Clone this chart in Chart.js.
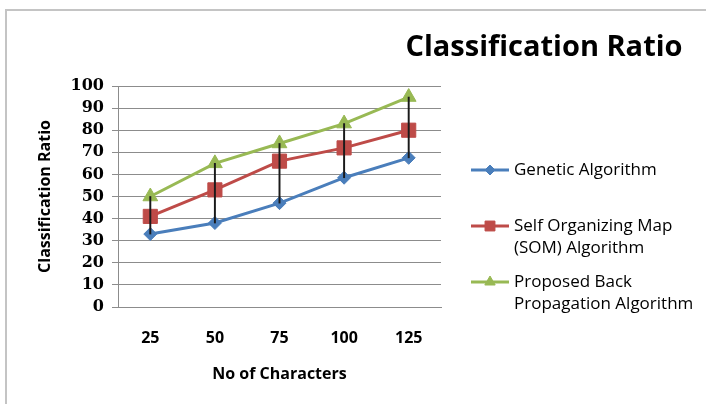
<!DOCTYPE html>
<html>
<head>
<meta charset="utf-8">
<script src="https://cdn.jsdelivr.net/npm/chart.js@4.4.0/dist/chart.umd.min.js"></script>
<style>
  html, body { margin: 0; padding: 0; background: #fff; }
  #wrap { position: relative; width: 706px; height: 404px; }
  canvas { display: block; }
</style>
</head>
<body>
<div id="wrap"><canvas id="c" width="706" height="404"></canvas></div>
<script>
// Characters tested and classification ratio (%) per algorithm
const categories = ['25', '50', '75', '100', '125'];
const geneticValues = [33, 38, 47, 58.5, 67.5];
const somValues = [41, 53, 66, 72, 80];
const backPropValues = [50, 65, 74, 83, 95];
const yTicks = [0, 10, 20, 30, 40, 50, 60, 70, 80, 90, 100];
const seriesNames = [
  ['Genetic Algorithm'],
  ['Self Organizing Map', '(SOM) Algorithm'],
  ['Proposed Back', 'Propagation Algorithm']
];
const chartTitle = 'Classification Ratio';
const xTitle = 'No of Characters';
const yTitle = 'Classification Ratio';

const BLUE = '#4A7EBB', RED = '#BE4B48', GREEN = '#98B954';

// High-low span at each category: lowest to highest value
const hiLow = categories.map((_, i) => {
  const vals = [geneticValues[i], somValues[i], backPropValues[i]];
  return [Math.min(...vals), Math.max(...vals)];
});

// Frame, chart title and right-hand legend
const decorations = {
  id: 'decorations',
  beforeDraw(chart) {
    const ctx = chart.ctx;
    ctx.save();
    ctx.fillStyle = '#fff';
    ctx.fillRect(0, 0, chart.width, chart.height);
    ctx.strokeStyle = '#c4c4c4';
    ctx.lineWidth = 2;
    ctx.beginPath();
    ctx.moveTo(6, chart.height);
    ctx.lineTo(6, 10);
    ctx.lineTo(chart.width, 10);
    ctx.stroke();
    ctx.restore();
  },
  afterDraw(chart) {
    const ctx = chart.ctx;
    ctx.save();
    ctx.fillStyle = '#000';
    ctx.font = 'bold 29px "Open Sans"';
    ctx.textAlign = 'center';
    ctx.textBaseline = 'alphabetic';
    ctx.fillText(chartTitle, 544, 56);

    const rows = [170, 226, 282];
    const lineGap = 22;
    ctx.font = '17px "Open Sans"';
    ctx.textAlign = 'left';
    ctx.textBaseline = 'middle';
    chart.data.datasets.forEach((ds, k) => {
      if (ds.type !== 'line') return;
      const y = rows[k];
      ctx.strokeStyle = ds.borderColor;
      ctx.lineWidth = 3;
      ctx.beginPath();
      ctx.moveTo(471, y);
      ctx.lineTo(509, y);
      ctx.stroke();
      ctx.fillStyle = ds.pointBackgroundColor;
      ctx.strokeStyle = ds.pointBorderColor;
      ctx.lineWidth = 1;
      Chart.helpers.drawPoint(ctx, {
        pointStyle: ds.pointStyle,
        radius: ds.legendRadius,
        borderWidth: 1
      }, 490, y);
      ctx.fillStyle = '#000';
      seriesNames[k].forEach((t, j) => ctx.fillText(t, 514, y + j * lineGap));
    });
    ctx.restore();
  }
};

new Chart(document.getElementById('c'), {
  data: {
    labels: categories,
    datasets: [
      {
        type: 'line', label: seriesNames[0].join(' '), data: geneticValues,
        borderColor: BLUE, backgroundColor: BLUE, borderWidth: 3,
        pointStyle: 'rectRot', pointRadius: 6.5, legendRadius: 5,
        pointBackgroundColor: BLUE, pointBorderColor: BLUE, pointBorderWidth: 1,
        tension: 0, order: 3
      },
      {
        type: 'line', label: seriesNames[1].join(' '), data: somValues,
        borderColor: RED, backgroundColor: RED, borderWidth: 3,
        pointStyle: 'rect', pointRadius: 10, legendRadius: 7,
        pointBackgroundColor: RED, pointBorderColor: RED, pointBorderWidth: 1,
        tension: 0, order: 2
      },
      {
        type: 'line', label: seriesNames[2].join(' '), data: backPropValues,
        borderColor: GREEN, backgroundColor: GREEN, borderWidth: 3,
        pointStyle: 'triangle', pointRadius: 8.5, legendRadius: 6,
        pointBackgroundColor: GREEN, pointBorderColor: GREEN, pointBorderWidth: 1,
        tension: 0, order: 1
      },
      {
        type: 'bar', label: 'High-Low', data: hiLow,
        backgroundColor: '#1a1a1a', barThickness: 1.3, order: 0
      }
    ]
  },
  options: {
    responsive: false,
    animation: false,
    events: [],
    layout: { padding: { top: 86, right: 265, left: 0, bottom: 0 } },
    plugins: {
      legend: { display: false },
      title: { display: false },
      tooltip: { enabled: false }
    },
    scales: {
      x: {
        offset: true,
        grid: { display: false, drawTicks: false },
        border: { display: true, color: '#8c8c8c', width: 1 },
        ticks: {
          color: '#000', padding: 22,
          font: { family: '"Open Sans"', weight: 'bold', size: 16 }
        },
        title: {
          display: true, text: xTitle, color: '#000',
          font: { family: '"Open Sans"', weight: 'bold', size: 16 },
          padding: { top: 0, bottom: 20 }
        },
        afterFit(scale) { scale.height = 97; }
      },
      y: {
        min: 0, max: 100,
        afterBuildTicks(scale) { scale.ticks = yTicks.map(v => ({ value: v })); },
        grid: { color: '#8c8c8c', lineWidth: 1, tickLength: 6, tickColor: '#8c8c8c' },
        border: { display: true, color: '#8c8c8c', width: 1 },
        ticks: {
          color: '#000', padding: 8, autoSkip: false,
          font: { family: '"DejaVu Serif"', weight: 'bold', size: 16 }
        },
        title: {
          display: true, text: yTitle, color: '#000',
          font: { family: '"Open Sans"', weight: 'bold', size: 16 },
          padding: { top: 36, bottom: 0 }
        },
        afterFit(scale) { scale.width = 118; }
      }
    }
  },
  plugins: [decorations]
});
</script>
</body>
</html>
